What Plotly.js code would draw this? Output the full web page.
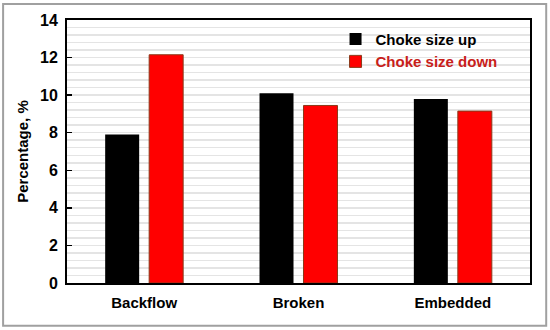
<!DOCTYPE html>
<html>
<head>
<meta charset="utf-8">
<script src="https://cdn.plot.ly/plotly-3.0.1.min.js"></script>
<style>html,body{margin:0;padding:0;background:#fff;}#chart{width:550px;height:330px;}</style>
</head>
<body>
<div id="chart"></div>
<script>
const categories = ['Backflow', 'Broken', 'Embedded'];
const chokeUp = [7.9, 10.1, 9.8];
const chokeDown = [12.15, 9.45, 9.15];
const seriesNames = ['Choke size up', 'Choke size down'];
const yTicks = [0, 2, 4, 6, 8, 10, 12, 14];

const traces = [
  {type: 'bar', x: categories, y: chokeUp, name: seriesNames[0],
   marker: {color: '#000000'}},
  {type: 'bar', x: categories, y: chokeDown,
   name: '<span style="color:#c8201a">' + seriesNames[1] + '</span>',
   marker: {color: '#ff0000', line: {color: '#8a3a1a', width: 1}}}
];

const layout = {
  width: 550, height: 330,
  margin: {l: 67, r: 20, t: 20, b: 47},
  paper_bgcolor: '#ffffff', plot_bgcolor: '#ffffff',
  font: {family: 'Liberation Sans, Arial, sans-serif', size: 15, color: '#000'},
  barmode: 'group', bargap: 0.43, bargroupgap: 0.227,
  showlegend: true,
  legend: {x: 0.58, y: 0.99, xanchor: 'left', yanchor: 'top', bgcolor: 'rgba(0,0,0,0)',
           font: {size: 15, weight: 'bold'}, tracegroupgap: 0, itemwidth: 30},
  xaxis: {
    showline: true, linecolor: '#000', linewidth: 2, mirror: true,
    ticks: '', tickfont: {size: 15, weight: 'bold'}, showgrid: false,
    ticklabelstandoff: 5
  },
  yaxis: {
    range: [0, 14], tickvals: yTicks, ticktext: yTicks.map(String),
    showline: true, linecolor: '#000', linewidth: 2, mirror: true,
    ticks: 'inside', ticklen: 5, tickwidth: 1.5, tickcolor: '#000',
    tickfont: {size: 16, weight: 'bold'}, ticklabelstandoff: 4,
    showgrid: true, gridcolor: '#e4e4e4', gridwidth: 1.5,
    minor: {dtick: 0.4, tick0: 0, showgrid: true, gridcolor: '#e4e4e4', gridwidth: 1.5},
    zeroline: false,
    title: {text: 'Percentage, %', font: {size: 15, weight: 'bold'}, standoff: 8}
  },
  shapes: [{type: 'rect', xref: 'paper', yref: 'paper',
            x0: -0.138, x1: 1.035, y0: -0.163, y1: 1.061,
            line: {color: '#a0a0a0', width: 2}, fillcolor: 'rgba(0,0,0,0)'}]
};

Plotly.newPlot('chart', traces, layout, {displayModeBar: false, staticPlot: true});
</script>
</body>
</html>
